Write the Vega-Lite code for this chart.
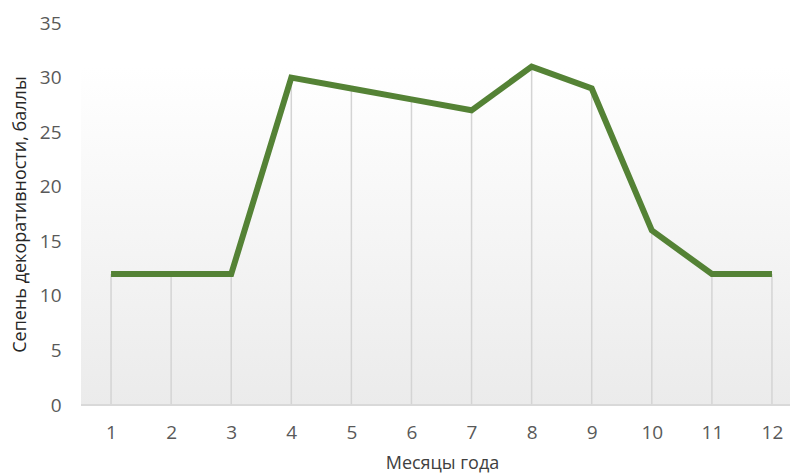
{
  "$schema": "https://vega.github.io/schema/vega-lite/v6.json",
  "width": 709,
  "height": 382,
  "autosize": {"type": "none"},
  "padding": {"left": 81, "top": 23, "right": 1, "bottom": 70},
  "background": "#ffffff",
  "config": {"view": {"stroke": null}, "font": "Open Sans"},
  "data": {"values": [
    {"month": 1, "score": 12},
    {"month": 2, "score": 12},
    {"month": 3, "score": 12},
    {"month": 4, "score": 30},
    {"month": 5, "score": 29},
    {"month": 6, "score": 28},
    {"month": 7, "score": 27},
    {"month": 8, "score": 31},
    {"month": 9, "score": 29},
    {"month": 10, "score": 16},
    {"month": 11, "score": 12},
    {"month": 12, "score": 12}
  ]},
  "layer": [
    {
      "data": {"values": [{}]},
      "mark": {"type": "rect", "fill": {"gradient": "linear", "x1": 0, "y1": 0, "x2": 0, "y2": 1, "stops": [{"offset": 0, "color": "#ffffff"}, {"offset": 1, "color": "#ebebeb"}]}},
      "encoding": {
        "x": {"datum": 0.5, "type": "quantitative", "scale": {"domain": [0.5, 12.3]}},
        "x2": {"datum": 12.3},
        "y": {"datum": 30.9, "type": "quantitative", "scale": {"domain": [0, 35]}},
        "y2": {"datum": 0}
      }
    },
    {
      "mark": {"type": "rule", "color": "#d4d4d4", "strokeWidth": 1.5},
      "encoding": {
        "x": {"field": "month", "type": "quantitative"},
        "y": {"field": "score", "type": "quantitative"},
        "y2": {"datum": 0}
      }
    },
    {
      "mark": {"type": "rule", "color": "#d9d9d9", "strokeWidth": 1.5},
      "encoding": {
        "x": {"datum": 0.5, "type": "quantitative"},
        "x2": {"datum": 12.3},
        "y": {"datum": 0, "type": "quantitative"}
      }
    },
    {
      "mark": {"type": "line", "color": "#548235", "strokeWidth": 6, "strokeJoin": "miter", "strokeCap": "butt"},
      "encoding": {
        "x": {
          "field": "month", "type": "quantitative",
          "scale": {"domain": [0.5, 12.3], "nice": false, "zero": false},
          "axis": {
            "values": [1, 2, 3, 4, 5, 6, 7, 8, 9, 10, 11, 12],
            "format": "d",
            "title": "Месяцы года",
            "domain": false, "ticks": false, "grid": false,
            "labelFontSize": 19, "labelColor": "#595959", "labelPadding": 18,
            "titleFontSize": 18, "titleFontWeight": "normal", "titleColor": "#404040",
            "titleX": 361, "titleY": 58, "titleBaseline": "middle"
          }
        },
        "y": {
          "field": "score", "type": "quantitative",
          "scale": {"domain": [0, 35], "nice": false},
          "axis": {
            "values": [0, 5, 10, 15, 20, 25, 30, 35],
            "format": "d",
            "title": "Сепень декоративности, баллы",
            "domain": false, "ticks": false, "grid": false,
            "labelFontSize": 19, "labelColor": "#595959", "labelPadding": 20,
            "titleFontSize": 18, "titleFontWeight": 500, "titleColor": "#262626",
            "titleX": -61, "titleBaseline": "middle"
          }
        }
      }
    }
  ]
}
